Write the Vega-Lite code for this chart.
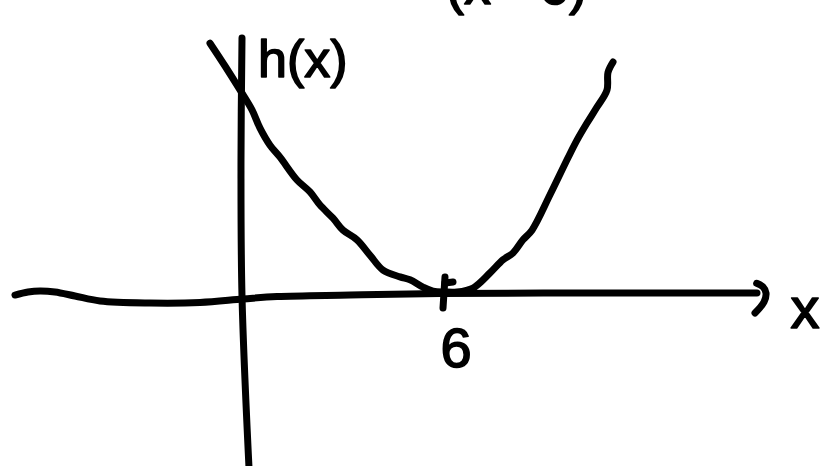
{
  "$schema": "https://vega.github.io/schema/vega-lite/v6.json",
  "width": 822,
  "height": 466,
  "autosize": {"type": "none"},
  "padding": 0,
  "background": "white",
  "config": {
    "view": {"stroke": null},
    "text": {"font": "Liberation Sans", "color": "black", "stroke": "black", "strokeWidth": 1.6, "strokeJoin": "round", "baseline": "alphabetic"}
  },
  "layer": [
    {
      "data": {
        "values": [
          {"part": "h", "i": 0, "x": -0.90, "y": 44.0},
          {"part": "h", "i": 1, "x": -0.45, "y": 40.0},
          {"part": "h", "i": 2, "x": 0.00, "y": 35.8},
          {"part": "h", "i": 3, "x": 0.36, "y": 32.3},
          {"part": "h", "i": 4, "x": 0.60, "y": 29.1},
          {"part": "h", "i": 5, "x": 0.90, "y": 26.1},
          {"part": "h", "i": 6, "x": 1.20, "y": 24.0},
          {"part": "h", "i": 7, "x": 1.71, "y": 20.0},
          {"part": "h", "i": 8, "x": 2.10, "y": 17.9},
          {"part": "h", "i": 9, "x": 2.40, "y": 15.6},
          {"part": "h", "i": 10, "x": 2.79, "y": 13.3},
          {"part": "h", "i": 11, "x": 3.09, "y": 11.2},
          {"part": "h", "i": 12, "x": 3.51, "y": 9.5},
          {"part": "h", "i": 13, "x": 3.90, "y": 6.8},
          {"part": "h", "i": 14, "x": 4.29, "y": 4.2},
          {"part": "h", "i": 15, "x": 4.80, "y": 3.0},
          {"part": "h", "i": 16, "x": 5.10, "y": 2.5},
          {"part": "h", "i": 17, "x": 5.49, "y": 1.2},
          {"part": "h", "i": 18, "x": 5.79, "y": 0.5},
          {"part": "h", "i": 19, "x": 6.15, "y": 0.35},
          {"part": "h", "i": 20, "x": 6.51, "y": 0.35},
          {"part": "h", "i": 21, "x": 6.99, "y": 1.05},
          {"part": "h", "i": 22, "x": 7.50, "y": 3.7},
          {"part": "h", "i": 23, "x": 7.89, "y": 6.0},
          {"part": "h", "i": 24, "x": 8.19, "y": 7.2},
          {"part": "h", "i": 25, "x": 8.49, "y": 9.5},
          {"part": "h", "i": 26, "x": 8.76, "y": 11.2},
          {"part": "h", "i": 27, "x": 9.30, "y": 17.4},
          {"part": "h", "i": 28, "x": 9.84, "y": 23.9},
          {"part": "h", "i": 29, "x": 10.11, "y": 27.0},
          {"part": "h", "i": 30, "x": 10.41, "y": 30.0},
          {"part": "h", "i": 31, "x": 10.71, "y": 32.8},
          {"part": "h", "i": 32, "x": 11.01, "y": 35.8},
          {"part": "h", "i": 33, "x": 11.04, "y": 38.9},
          {"part": "h", "i": 34, "x": 11.19, "y": 40.7},

          {"part": "xaxis", "i": 0, "x": -6.75, "y": -0.18},
          {"part": "xaxis", "i": 1, "x": -6.36, "y": 0.35},
          {"part": "xaxis", "i": 2, "x": -6.00, "y": 0.53},
          {"part": "xaxis", "i": 3, "x": -5.55, "y": 0.35},
          {"part": "xaxis", "i": 4, "x": -4.95, "y": -0.35},
          {"part": "xaxis", "i": 5, "x": -4.20, "y": -1.23},
          {"part": "xaxis", "i": 6, "x": -2.70, "y": -1.58},
          {"part": "xaxis", "i": 7, "x": -1.20, "y": -1.49},
          {"part": "xaxis", "i": 8, "x": 0.09, "y": -0.88},
          {"part": "xaxis", "i": 9, "x": 1.11, "y": -0.44},
          {"part": "xaxis", "i": 10, "x": 3.30, "y": -0.18},
          {"part": "xaxis", "i": 11, "x": 6.00, "y": 0.09},
          {"part": "xaxis", "i": 12, "x": 10.80, "y": 0.18},
          {"part": "xaxis", "i": 13, "x": 15.51, "y": 0.18},

          {"part": "arrow", "i": 0, "x": 15.50, "y": 1.88},
          {"part": "arrow", "i": 1, "x": 15.69, "y": 1.23},
          {"part": "arrow", "i": 2, "x": 15.78, "y": 0.18},
          {"part": "arrow", "i": 3, "x": 15.72, "y": -1.40},
          {"part": "arrow", "i": 4, "x": 15.45, "y": -3.33},

          {"part": "yaxis", "i": 0, "x": 0.06, "y": 44.9},
          {"part": "yaxis", "i": 1, "x": 0.03, "y": 23.5},
          {"part": "yaxis", "i": 2, "x": 0.06, "y": -0.35},
          {"part": "yaxis", "i": 3, "x": 0.27, "y": -30.5},

          {"part": "tick", "i": 0, "x": 6.15, "y": 2.98},
          {"part": "tick", "i": 1, "x": 6.09, "y": -2.46},

          {"part": "tickbar", "i": 0, "x": 6.15, "y": 1.93},
          {"part": "tickbar", "i": 1, "x": 6.39, "y": 2.10}
        ]
      },
      "mark": {
        "type": "line",
        "color": "black",
        "strokeWidth": 7,
        "strokeCap": "round",
        "strokeJoin": "round",
        "interpolate": "catmull-rom"
      },
      "encoding": {
        "x": {"field": "x", "type": "quantitative", "scale": {"domain": [-7.2, 17.46], "nice": false, "zero": false}, "axis": null},
        "y": {"field": "y", "type": "quantitative", "scale": {"domain": [-30.18, 51.58], "nice": false, "zero": false}, "axis": null},
        "detail": {"field": "part"},
        "order": {"field": "i", "type": "quantitative"}
      }
    },
    {
      "data": {"values": [{"label": "h(x)", "x": 0.54, "y": 38.0}]},
      "mark": {"type": "text", "fontSize": 52, "align": "left"},
      "encoding": {
        "x": {"field": "x", "type": "quantitative"},
        "y": {"field": "y", "type": "quantitative"},
        "text": {"field": "label"}
      }
    },
    {
      "data": {"values": [{"label": "x", "x": 16.95, "y": -5.96}]},
      "mark": {"type": "text", "fontSize": 58, "align": "center"},
      "encoding": {
        "x": {"field": "x", "type": "quantitative"},
        "y": {"field": "y", "type": "quantitative"},
        "text": {"field": "label"}
      }
    },
    {
      "data": {"values": [{"label": "6", "x": 6.48, "y": -12.8}]},
      "mark": {"type": "text", "fontSize": 56, "align": "center"},
      "encoding": {
        "x": {"field": "x", "type": "quantitative"},
        "y": {"field": "y", "type": "quantitative"},
        "text": {"field": "label"}
      }
    },
    {
      "data": {"values": [{"label": "(x - 6)²", "x": 6.18, "y": 50.9}]},
      "mark": {"type": "text", "fontSize": 54, "align": "left"},
      "encoding": {
        "x": {"field": "x", "type": "quantitative"},
        "y": {"field": "y", "type": "quantitative"},
        "text": {"field": "label"}
      }
    }
  ]
}
